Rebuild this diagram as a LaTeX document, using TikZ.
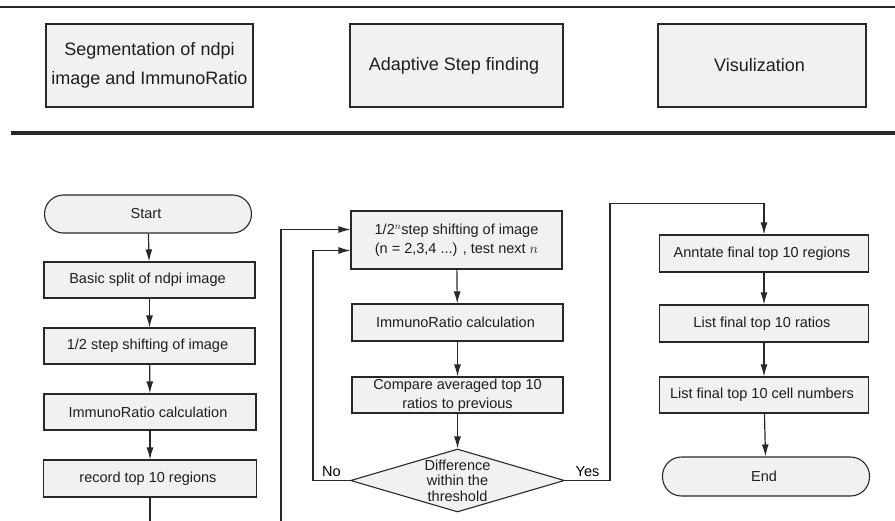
\documentclass[tikz,border=0pt]{standalone}
\usepackage{fontspec}
\setmainfont{Liberation Sans}
\usetikzlibrary{positioning,shapes,arrows.meta}

\definecolor{boxfill}{RGB}{240,241,243}
\definecolor{linegray}{RGB}{40,40,40}
\definecolor{textgray}{RGB}{30,30,30}

\tikzset{
	phasebox/.style={draw=linegray, fill=boxfill, line width=1.1pt,
		text=textgray, align=center, minimum height=83pt, inner sep=0pt,
		font=\fontsize{18}{29}\selectfont},
	stepbox/.style={draw=linegray, fill=boxfill, line width=1.1pt,
		text=textgray, align=center, inner sep=0pt,
		font=\fontsize{14.5}{19}\selectfont},
	terminal/.style={stepbox, rounded corners=19pt},
	decision/.style={stepbox, diamond, shape aspect=3.4,
		font=\fontsize{14.5}{15.5}\selectfont},
	flow/.style={draw=linegray, line width=1.2pt,
		-{Latex[length=12pt, width=7pt]}},
}

\begin{document}
\begin{tikzpicture}[x=1pt, y=-1pt]

\useasboundingbox (0,0) rectangle (895,520);
\clip (0,0) rectangle (895,520);

% Header rules
\draw [linegray, line width=1.2pt] (0,7) -- (895,7);
\draw [linegray, line width=3.5pt] (11,133) -- (895,133);

% Segmentation phase
\node [phasebox,
	minimum width=207pt
] (segmentation) at (149.5, 65.5) {
Segmentation of ndpi\\
image and ImmunoRatio
};

% Adaptive step phase
\node [phasebox,
	minimum width=213pt
] (adaptive_step) at (456.5, 65.5) {
Adaptive Step finding
};

% Visualization phase
\node [phasebox,
	minimum width=208pt
] (visualization) at (762, 65.5) {
Visulization
};

% Start
\node [terminal,
	minimum width=207pt,
	minimum height=38pt
] (start) at (148, 214) {
Start
};

% Basic split
\node [stepbox,
	minimum width=211pt,
	minimum height=36pt
] (basic_split) at (149.5, 280) {
Basic split of ndpi image
};

% Half step shifting
\node [stepbox,
	minimum width=211pt,
	minimum height=36pt
] (half_step) at (149.5, 346) {
1/2 step shifting of image
};

% ImmunoRatio calculation (first pass)
\node [stepbox,
	minimum width=212pt,
	minimum height=36pt
] (immuno_ratio_a) at (150, 412) {
ImmunoRatio calculation
};

% Record regions
\node [stepbox,
	minimum width=213pt,
	minimum height=37pt
] (record_regions) at (150, 478.5) {
record top 10 regions
};

% Loop corner below the picture
\coordinate (loop_bottom) at (281, 545);

% Nth step shifting
\node [stepbox,
	minimum width=211pt,
	minimum height=58pt
] (nth_step) at (456.5, 240) {
1/2$^{n}$step shifting of image\\
(n = 2,3,4 ...) , test next $n$
};

% ImmunoRatio calculation (adaptive)
\node [stepbox,
	minimum width=211pt,
	minimum height=37pt
] (immuno_ratio_b) at (457.5, 322.5) {
ImmunoRatio calculation
};

% Compare ratios
\node [stepbox,
	minimum width=211pt,
	minimum height=36pt
] (compare_ratios) at (457.5, 395) {
Compare averaged top 10\\
ratios to previous
};

% Difference check
\node [decision,
	minimum width=214pt,
	minimum height=63pt
] (difference) at (457.5, 480.5) {
Difference\\
within the\\
threshold
};

% Annotate regions
\node [stepbox,
	minimum width=209pt,
	minimum height=37pt
] (annotate_regions) at (764, 253.5) {
Anntate final top 10 regions
};

% List ratios
\node [stepbox,
	minimum width=209pt,
	minimum height=37pt
] (list_ratios) at (764, 323.5) {
List final top 10 ratios
};

% List cell numbers
\node [stepbox,
	minimum width=209pt,
	minimum height=36pt
] (list_cells) at (764, 395) {
List final top 10 cell numbers
};

% End
\node [terminal,
	minimum width=207pt,
	minimum height=39pt
] (finish) at (766, 476.5) {
End
};

% Arrows
\draw [flow] (start) -- (basic_split);
\draw [flow] (basic_split) -- (half_step);
\draw [flow] (half_step) -- (immuno_ratio_a);
\draw [flow] (immuno_ratio_a) -- (record_regions);
\draw [flow] (record_regions.south) |- (loop_bottom) |- ([yshift=10.5pt]nth_step.west);

\draw [flow] (nth_step) -- (immuno_ratio_b);
\draw [flow] (immuno_ratio_b) -- (compare_ratios);
\draw [flow] (compare_ratios) -- (difference);
\draw [flow] (difference.west) -- ++(-37,0) node[midway, above, font=\fontsize{14.5}{17}\selectfont] {No}
	|- ([yshift=-10.5pt]nth_step.west);
\draw [flow] (difference.east) -- ++(45,0) node[midway, above, font=\fontsize{14.5}{17}\selectfont] {Yes}
	|- ([yshift=31pt]annotate_regions.north) -- (annotate_regions.north);

\draw [flow] (annotate_regions) -- (list_ratios);
\draw [flow] (list_ratios) -- (list_cells);
\draw [flow] (list_cells) -- (finish);

\end{tikzpicture}
\end{document}
